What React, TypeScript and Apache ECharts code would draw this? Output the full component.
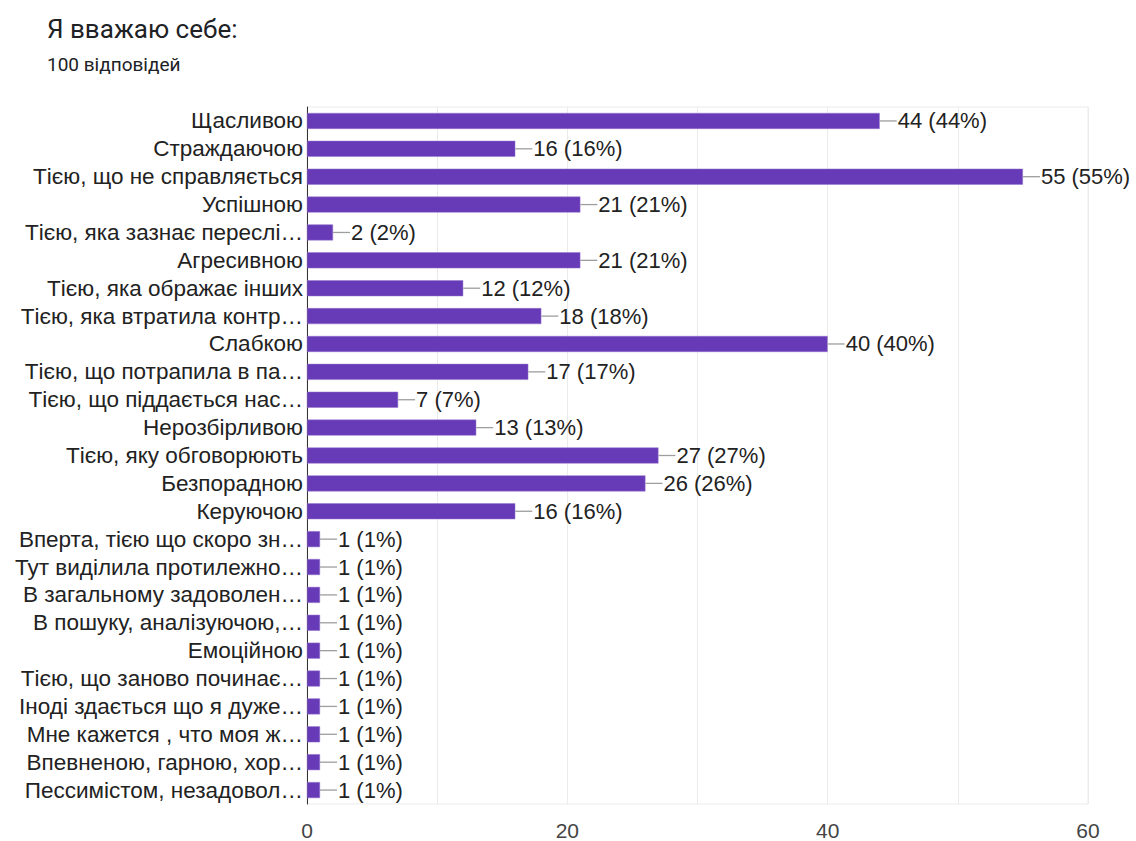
import React, { useEffect, useRef } from "react";
import * as echarts from "echarts";

const categories = [
  "Щасливою",
  "Страждаючою",
  "Тією, що не справляється",
  "Успішною",
  "Тією, яка зазнає переслі…",
  "Агресивною",
  "Тією, яка ображає інших",
  "Тією, яка втратила контр…",
  "Слабкою",
  "Тією, що потрапила в па…",
  "Тією, що піддається нас…",
  "Нерозбірливою",
  "Тією, яку обговорюють",
  "Безпорадною",
  "Керуючою",
  "Вперта, тією що скоро зн…",
  "Тут виділила протилежно…",
  "В загальному задоволен…",
  "В пошуку, аналізуючою,…",
  "Емоційною",
  "Тією, що заново починає…",
  "Іноді здається що я дуже…",
  "Мне кажется , что моя ж…",
  "Впевненою, гарною, хор…",
  "Пессимістом, незадовол…",
];

const counts = [44, 16, 55, 21, 2, 21, 12, 18, 40, 17, 7, 13, 27, 26, 16, 1, 1, 1, 1, 1, 1, 1, 1, 1, 1];
const totalResponses = 100;
const xTicks = [0, 20, 40, 60];

const title = "Я вважаю себе:";
const subtitle = `${totalResponses} відповідей`;

export default function App() {
  const ref = useRef<HTMLDivElement>(null);
  useEffect(() => {
    if (!ref.current) return;
    const chart = echarts.init(ref.current, null, { renderer: "svg" });
    const font = "Arial, 'Liberation Sans', sans-serif";
    chart.setOption({
      animation: false,
      backgroundColor: "#ffffff",
      title: [
        {
          text: title,
          left: 42,
          top: 11,
          textStyle: { fontFamily: "Roboto", fontSize: 26, fontWeight: "normal", color: "#202124" },
        },
        {
          text: subtitle,
          left: 42,
          top: 50,
          textStyle: { fontFamily: "Roboto", fontSize: 19, fontWeight: "normal", color: "#202124" },
        },
      ],
      grid: {
        left: 307,
        right: 48,
        top: 107,
        bottom: 36,
        show: true,
        borderColor: "#ebebeb",
        borderWidth: 1,
        containLabel: false,
      },
      xAxis: {
        type: "value",
        min: 0,
        max: 60,
        interval: 10,
        axisLine: { show: false },
        axisTick: { show: false },
        splitLine: { show: true, lineStyle: { color: "#ebebeb", width: 1 } },
        axisLabel: {
          margin: 16,
          fontFamily: font,
          fontSize: 21,
          color: "#444444",
          formatter: (v: number) => (xTicks.includes(v) ? String(v) : ""),
        },
      },
      yAxis: {
        type: "category",
        data: categories,
        inverse: true,
        axisLine: { show: true, lineStyle: { color: "#333333", width: 1 } },
        axisTick: { show: false },
        splitLine: { show: false },
        axisLabel: {
          interval: 0,
          margin: 4,
          fontFamily: font,
          fontSize: 22.5,
          color: "#222222",
        },
      },
      series: [
        {
          type: "bar",
          data: counts,
          barWidth: 16,
          itemStyle: { color: "#673ab7", borderColor: "#9575cd", borderWidth: 0.5 },
          label: {
            show: true,
            position: "right",
            distance: 0,
            formatter: (p: any) =>
              `{ln|}{v|${p.value} (${Math.round((p.value / totalResponses) * 100)}%)}`,
            rich: {
              ln: { width: 17, height: 1.3, backgroundColor: "#9e9e9e" },
              v: { fontFamily: font, fontSize: 22, color: "#222222", padding: [0, 0, 0, 1] },
            },
          },
        },
      ],
    });
    return () => chart.dispose();
  }, []);
  return <div ref={ref} style={{ width: 1136, height: 841, position: "absolute", left: 0, top: 0 }} />;
}
